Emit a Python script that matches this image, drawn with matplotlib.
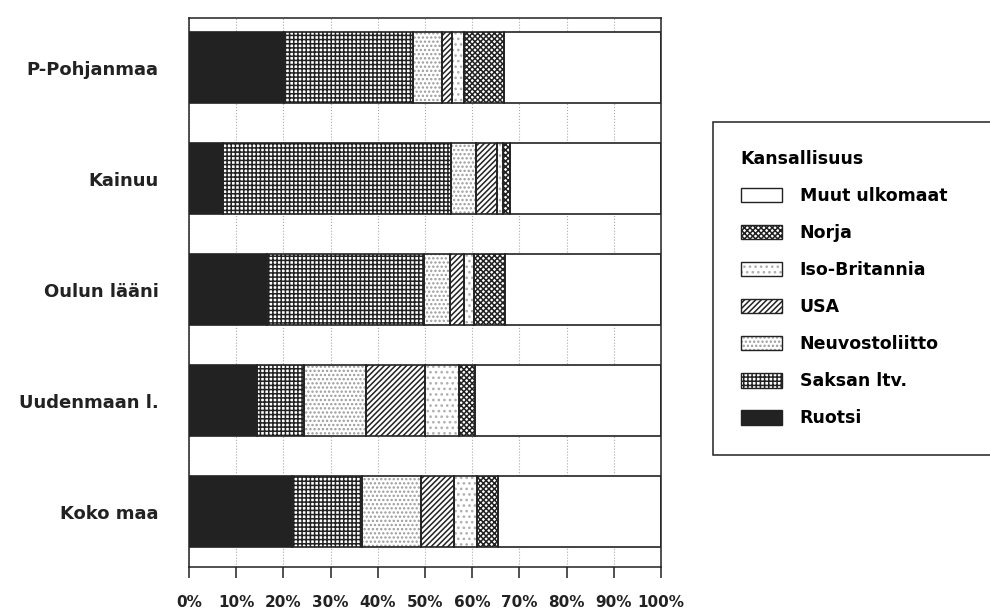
import matplotlib
matplotlib.use("Agg")
import numpy as np
import matplotlib.pyplot as plt
from matplotlib.patches import Patch
from matplotlib.legend_handler import HandlerTuple

# regions, top to bottom
regions = ['P-Pohjanmaa', 'Kainuu', 'Oulun lääni', 'Uudenmaan l.', 'Koko maa']

# shares (%) per nationality, in stacking order (left to right)
ruotsi = [20.2, 7.1, 16.6, 14.5, 21.9]
saksa = [27.3, 48.5, 33.1, 9.9, 14.7]
neuvostoliitto = [6.0, 5.2, 5.6, 13.0, 12.5]
usa = [2.3, 4.4, 2.9, 12.7, 7.1]
iso_britannia = [2.5, 1.4, 2.2, 7.1, 4.8]
norja = [8.5, 1.4, 6.5, 3.4, 4.5]
muut = [33.2, 32.0, 33.1, 39.4, 34.5]

series = [
    ('Ruotsi', ruotsi, '#222222', '', '#222222'),
    ('Saksan ltv.', saksa, 'white', '++++', '#222222'),
    ('Neuvostoliitto', neuvostoliitto, 'white', '....', '#9a9a9a'),
    ('USA', usa, 'white', '//////', '#222222'),
    ('Iso-Britannia', iso_britannia, 'white', '...', '#b0b0b0'),
    ('Norja', norja, 'white', 'xxxxxx', '#222222'),
    ('Muut ulkomaat', muut, 'white', '', '#222222'),
]

x_ticks = np.arange(0, 101, 10)
x_ticklabels = [f'{t}%' for t in x_ticks]

plt.rcParams['font.family'] = ['DejaVu Sans']
plt.rcParams['hatch.linewidth'] = 1.1

fig = plt.figure(figsize=(9.9, 6.1), dpi=100)
ax = fig.add_axes([189 / 990, 1 - 567 / 610, 472 / 990, (567 - 18) / 610])

y = np.arange(len(regions))
left = np.zeros(len(regions))
handles = {}
for name, vals, fc, hatch, hc in series:
    vals = np.array(vals)
    ax.barh(y, vals, left=left, height=0.64, color=fc, hatch=hatch,
            edgecolor=hc, linewidth=0, zorder=2)
    ax.barh(y, vals, left=left, height=0.64, fill=False,
            edgecolor='#222222', linewidth=1.2, zorder=3)
    left += vals
    handles[name] = (Patch(facecolor=fc, hatch=hatch, edgecolor=hc, linewidth=0),
                     Patch(fill=False, edgecolor='#222222', linewidth=1.0))

ax.set_xlim(0, 100)
ax.set_ylim(4.5, -0.45)
ax.set_xticks(x_ticks)
ax.set_xticklabels(x_ticklabels, fontsize=11, fontweight='bold')
ax.set_yticks(y)
ax.set_yticklabels(regions, fontsize=13, fontweight='bold')
ax.tick_params(axis='x', direction='out', length=8, width=1.1, pad=12, colors='#222222')
ax.tick_params(axis='y', length=0, pad=22, colors='#222222')
ax.grid(axis='x', linestyle=':', color='#aaaaaa', linewidth=0.8, zorder=0)
for s in ax.spines.values():
    s.set_linewidth(1.1)
    s.set_color('#222222')

order = ['Muut ulkomaat', 'Norja', 'Iso-Britannia', 'USA', 'Neuvostoliitto',
         'Saksan ltv.', 'Ruotsi']
leg = fig.legend([handles[n] for n in order], order,
                 handler_map={tuple: HandlerTuple(ndivide=1, pad=0)},
                 loc='upper left', bbox_to_anchor=(713 / 990, 0.243, 0.3, 1 - 122 / 610 - 0.243),
                 mode='expand', title='Kansallisuus', alignment='left',
                 prop={'size': 12.5, 'weight': 'bold'},
                 title_fontproperties={'size': 12.5, 'weight': 'bold'},
                 handlelength=2.4, handleheight=0.9, handletextpad=1.0,
                 labelspacing=1.1, borderpad=1.6, borderaxespad=0,
                 fancybox=False, frameon=True, framealpha=1)
leg.get_frame().set_linewidth(1.1)
leg.get_frame().set_edgecolor('#222222')

fig.savefig('out.png', dpi=100, facecolor='white')
